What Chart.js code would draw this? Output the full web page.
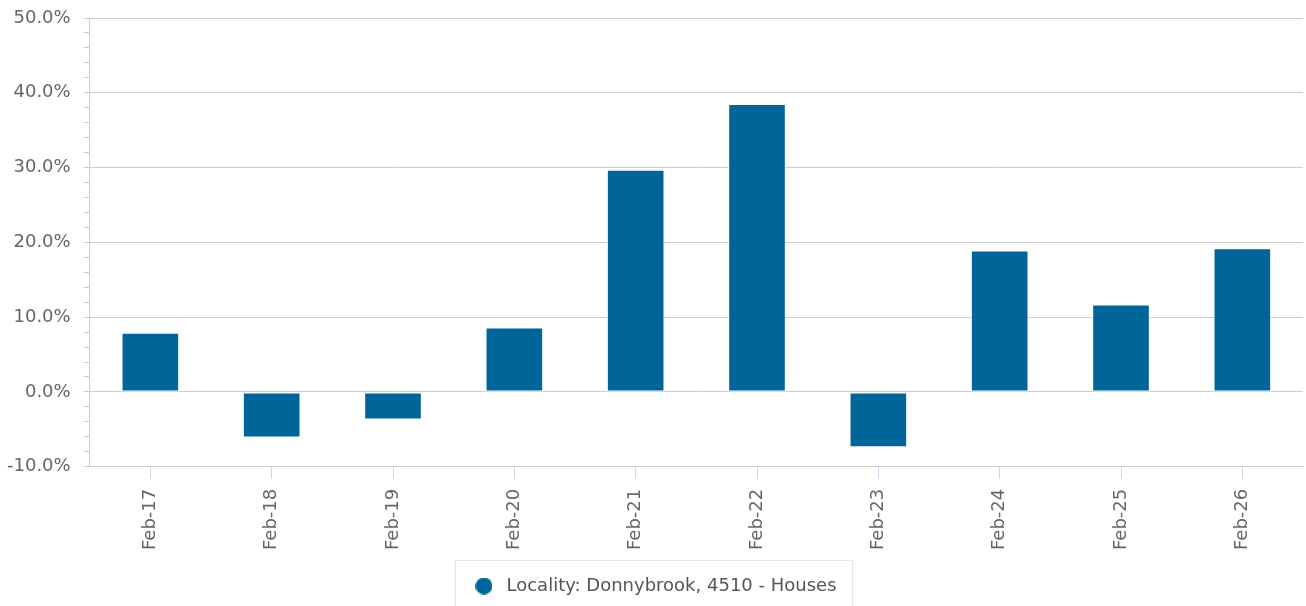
<!DOCTYPE html>
<html>
<head>
<meta charset="utf-8">
<script src="https://cdn.jsdelivr.net/npm/chart.js@4"></script>
<style>
  html, body { margin: 0; padding: 0; background: #fff; }
  #wrap { width: 1306px; height: 606px; }
</style>
</head>
<body>
<div id="wrap"><canvas id="growthChart" width="1306" height="606"></canvas></div>
<script>
const categories = ["Feb-17", "Feb-18", "Feb-19", "Feb-20", "Feb-21", "Feb-22", "Feb-23", "Feb-24", "Feb-25", "Feb-26"];
const growthValues = [7.9, -6.1, -3.7, 8.6, 29.7, 38.5, -7.4, 18.9, 11.7, 19.2];
const seriesName = "Locality: Donnybrook, 4510 - Houses";
const yMin = -10;
const yMax = 50;
const barColor = "#006699";

/* round legend marker, drawn on a small canvas */
function makeDot(size, color) {
    const c = document.createElement("canvas");
    c.width = size;
    c.height = size;
    const g = c.getContext("2d");
    g.fillStyle = color;
    g.beginPath();
    g.arc(size / 2, size / 2, size / 2, 0, Math.PI * 2);
    g.fill();
    return c;
}

/* legend frame + small nudge to the right */
const legendBox = {
    id: "legendBox",
    afterLayout(chart) {
        const lg = chart.legend;
        if (!lg) return;
        lg.left += 5;
        lg.right += 5;
    },
    afterDraw(chart) {
        const lg = chart.legend;
        if (!lg || !lg.legendHitBoxes.length) return;
        const hb = lg.legendHitBoxes[0];
        const ctx = chart.ctx;
        ctx.save();
        ctx.strokeStyle = "#e6e6e6";
        ctx.lineWidth = 1;
        ctx.strokeRect(Math.round(hb.left - 15) + 0.5, Math.round(hb.top - 17) + 0.5, hb.width + 31, 70);
        ctx.restore();
    }
};

const ctx = document.getElementById("growthChart").getContext("2d");
new Chart(ctx, {
    type: "bar",
    data: {
        labels: categories,
        datasets: [{
            label: seriesName,
            data: growthValues,
            backgroundColor: barColor,
            borderColor: "#ffffff",
            borderWidth: 1,
            borderSkipped: false,
            categoryPercentage: 1,
            barPercentage: 0.475,
            pointStyle: makeDot(17, barColor)
        }]
    },
    options: {
        responsive: false,
        animation: false,
        layout: { padding: { left: -6, right: 3, top: 0, bottom: 1 } },
        plugins: {
            tooltip: { enabled: false },
            legend: {
                position: "bottom",
                labels: {
                    usePointStyle: true,
                    boxHeight: 12,
                    pointStyleWidth: 27,
                    padding: 17,
                    color: "#555",
                    font: { family: "DejaVu Sans", size: 18 }
                }
            }
        },
        scales: {
            x: {
                grid: {
                    drawOnChartArea: false,
                    offset: false,
                    tickLength: 12,
                    tickColor: "#ccd6eb"
                },
                border: { color: "#cccccc" },
                ticks: {
                    minRotation: 90,
                    maxRotation: 90,
                    padding: 10,
                    color: "#666",
                    font: { family: "DejaVu Sans", size: 18 }
                }
            },
            y: {
                min: yMin,
                max: yMax,
                afterFit: s => { s.paddingTop = 18; },
                grid: {
                    color: c => (c.tick && c.tick.value % 10 === 0) ? "#cccccc" : "rgba(0,0,0,0)",
                    tickColor: "#cccccc",
                    tickLength: 6
                },
                border: { color: "#cccccc" },
                ticks: {
                    stepSize: 2,
                    autoSkip: false,
                    padding: 13,
                    color: "#666",
                    font: { family: "DejaVu Sans", size: 18 },
                    callback: v => (v % 10 === 0 ? v.toFixed(1) + "%" : "")
                }
            }
        }
    },
    plugins: [legendBox]
});
</script>
</body>
</html>
